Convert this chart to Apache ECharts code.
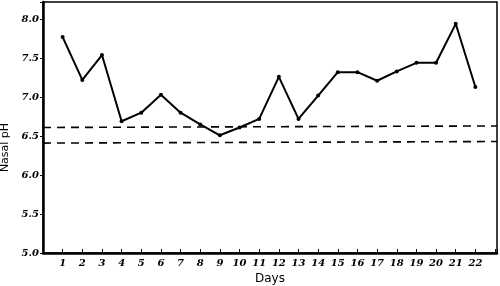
<!DOCTYPE html>
<html>
<head>
<meta charset="utf-8">
<script src="https://cdn.jsdelivr.net/npm/echarts@6/dist/echarts.min.js"></script>
<style>
  html, body { margin: 0; padding: 0; background: #fff; }
  #main { width: 500px; height: 286px; }
</style>
</head>
<body>
<div id="main"></div>
<script>
// days and nasal pH readings
var days = [1, 2, 3, 4, 5, 6, 7, 8, 9, 10, 11, 12, 13, 14, 15, 16, 17, 18, 19, 20, 21, 22];
var ph = [7.77, 7.22, 7.54, 6.69, 6.80, 7.03, 6.80, 6.65, 6.51, 6.61, 6.72, 7.26, 6.72, 7.02, 7.32, 7.32, 7.21, 7.33, 7.44, 7.44, 7.94, 7.13];
// dashed reference lines (left end, right end)
var upperLine = [6.61, 6.63];
var lowerLine = [6.41, 6.43];
var xRange = [0, 23.1];
var yTicks = ['5.0', '5.5', '6.0', '6.5', '7.0', '7.5', '8.0'];

var chart = echarts.init(document.getElementById('main'));

var option = {
  animation: false,
  backgroundColor: '#fff',
  grid: {
    left: 43, right: 3, top: 2, bottom: 33,
    containLabel: false, outerBoundsMode: 'none',
    show: true, borderColor: '#000', borderWidth: 1.5
  },
  xAxis: {
    type: 'value',
    min: xRange[0], max: xRange[1], interval: 1,
    name: 'Days', nameLocation: 'middle', nameGap: 20,
    nameTextStyle: { fontFamily: 'DejaVu Sans', fontSize: 12, color: '#000' },
    axisLine: { lineStyle: { color: '#000', width: 2.5 } },
    axisTick: { inside: true, length: 4, lineStyle: { color: '#000' } },
    splitLine: { show: false },
    axisLabel: {
      color: '#000', fontFamily: 'DejaVu Serif', fontStyle: 'italic', fontWeight: 'bold', fontSize: 10,
      margin: 5,
      formatter: function (v) { return days.indexOf(v) >= 0 ? String(v) : ''; }
    }
  },
  yAxis: {
    type: 'value',
    min: 5.0, max: 8.22, interval: 0.5,
    name: 'Nasal pH', nameLocation: 'middle', nameGap: 29,
    nameTextStyle: { fontFamily: 'DejaVu Sans', fontSize: 11, color: '#000', padding: [0, 40, 0, 0] },
    axisLine: { show: true, lineStyle: { color: '#000', width: 2.5 } },
    axisTick: { length: 3, lineStyle: { color: '#000' } },
    splitLine: { show: false },
    axisLabel: {
      color: '#000', fontFamily: 'DejaVu Serif', fontStyle: 'italic', fontWeight: 'bold', fontSize: 10,
      margin: 4,
      formatter: function (v) {
        var s = v.toFixed(1);
        return yTicks.indexOf(s) >= 0 ? s : '';
      }
    }
  },
  series: [
    {
      type: 'line',
      data: days.map(function (d, i) { return [d, ph[i]]; }),
      symbol: 'circle', symbolSize: 4,
      itemStyle: { color: '#000' },
      lineStyle: { color: '#000', width: 2 }
    },
    {
      type: 'line',
      data: [[xRange[0], upperLine[0]], [xRange[1], upperLine[1]]],
      symbol: 'none',
      lineStyle: { color: '#000', width: 1.6, type: [8, 6] }
    },
    {
      type: 'line',
      data: [[xRange[0], lowerLine[0]], [xRange[1], lowerLine[1]]],
      symbol: 'none',
      lineStyle: { color: '#000', width: 1.6, type: [8, 6] }
    }
  ]
};

chart.setOption(option);
</script>
</body>
</html>
